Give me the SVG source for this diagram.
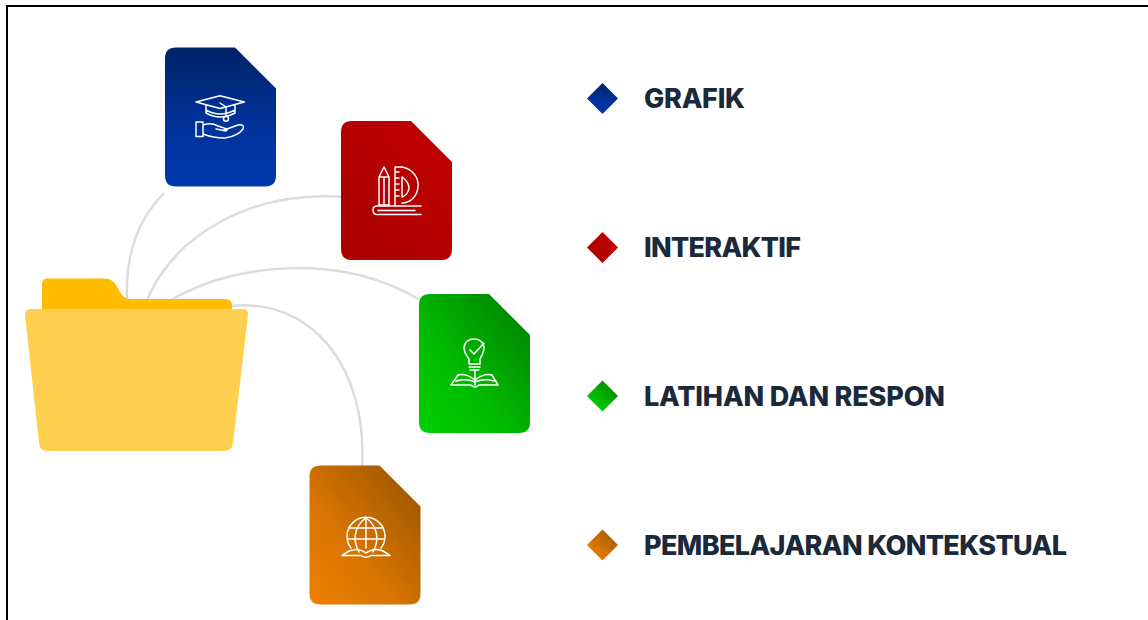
<svg xmlns="http://www.w3.org/2000/svg" width="1148" height="620" viewBox="0 0 1148 620">
<style>
.label{font-family:"Inter","Liberation Sans",sans-serif;font-weight:800;font-size:27px;fill:#1b2a3b}
.conn{fill:none;stroke:#dcdcdc;stroke-width:2.5}
.icon{fill:none;stroke:#fff;stroke-width:1.5;stroke-linecap:round;stroke-linejoin:round}
</style>
<defs>
<linearGradient id="gBlue" x1="0" y1="0" x2="0" y2="1"><stop offset="0" stop-color="#012366"/><stop offset=".55" stop-color="#00329a"/><stop offset="1" stop-color="#0038ad"/></linearGradient>
<linearGradient id="gRed" x1="1" y1="0" x2="0" y2="1"><stop offset="0" stop-color="#c40000"/><stop offset="1" stop-color="#a80000"/></linearGradient>
<linearGradient id="gGreen" x1="1" y1="0" x2="0" y2="1"><stop offset="0" stop-color="#007c00"/><stop offset=".6" stop-color="#00bb00"/><stop offset="1" stop-color="#00cf00"/></linearGradient>
<linearGradient id="gOrange" x1="1" y1="0" x2="0" y2="1"><stop offset="0" stop-color="#955200"/><stop offset=".6" stop-color="#d87400"/><stop offset="1" stop-color="#ee8000"/></linearGradient>
<path id="doc" d="M11 0H70L111 41V128Q111 139 100 139H11Q0 139 0 128V11Q0 0 11 0Z"/>
<path id="dia" d="M15.500 0L31 15.500L15.500 31L0 15.500Z"/>
</defs>
<rect x="7" y="6" width="1160" height="640" fill="#fff" stroke="#000" stroke-width="2"/>
<g id="connectors">
<path class="conn" d="M164 193C140 218 125 250 127 300"/>
<path class="conn" d="M147 300C175 235 250 190 345 197"/>
<path class="conn" d="M171 300C240 260 345 255 420 300"/>
<path class="conn" d="M232 306C310 298 368 365 362 468"/>
</g>
<g id="folder">
<path fill="#ffbc00" d="M42 310V284Q42 278.500 48 278.500H105Q112 278.500 116 285L120 292Q124 299 130 299H225Q232 299 232 306V312H42Z"/>
<path fill="#ffd04f" d="M30 309H243Q248.500 309 248 315L233 443Q232 451 224 451H47Q40 451 39 443L25 315Q25 309 30 309Z"/>
</g>
<g id="doc-grafik" transform="translate(165 47.500)">
<use href="#doc" fill="url(#gBlue)"/>
<g class="icon" transform="translate(-165 -47.500)">
<path d="M196 102L220 95.700L244.300 102L220 108.500Z"/>
<path d="M206 105V113Q220 121 235 113V105M206 110Q220 118 235 110"/>
<path d="M220 103L226 107V116"/>
<circle cx="226" cy="118.800" r="2.500"/>
<path d="M196 122H203V136.500H196ZM203 125Q211 122 218 126L224 128Q229 129 226 131L216 129M224 130L238 125Q245 124 243 129Q238 136 225 138Q213 138 203 134"/>
</g>
</g>
<g id="doc-interaktif" transform="translate(341 121)">
<use href="#doc" fill="url(#gRed)"/>
<g class="icon" transform="translate(-341 -121)">
<path d="M379 205V177L384 167L389 177V205ZM379 177H389M384 177V205"/>
<path d="M395 205V167H402C413 169 419 178 418 187C417 197 410 203 402 203M402 177Q409 182 409 188Q408 195 402 197ZM395 172H399M395 178H399M395 184H399M395 190H399M395 196H399"/>
<path d="M421 206H377Q373 206 373 210Q373 214.500 377 214.500H421M378 210.500H415"/>
</g>
</g>
<g id="doc-latihan" transform="translate(419 294)">
<use href="#doc" fill="url(#gGreen)"/>
<g class="icon" transform="translate(-419 -294)">
<path d="M469 364V359C466 355 464 352 464 348C464 342 469 339 474 339C479 339 484 342 484 348C484 352 482 355 480 359V364ZM469 367H480M470 370H479M475 370V379"/>
<path d="M470 350L474 354L484 343"/>
<path d="M451 385L458 375Q466 373 475 380Q484 373 492 375L498 385H479Q475 389 471 385ZM456 381Q466 378 475 382Q484 378 494 381M475 380V385"/>
</g>
</g>
<g id="doc-kontekstual" transform="translate(309.500 465.500)">
<use href="#doc" fill="url(#gOrange)"/>
<g class="icon" transform="translate(-309.500 -465.500)">
<path d="M351 548A19 19 0 1 1 381 548"/>
<path d="M359 552C353 541 353 528 366 517.500C379 528 379 541 373 552M366 517.500V548M349 528H383M347.500 539H384.500"/>
<path d="M342 555.500L349 551Q358 547 366 553Q375 547 383 551L390 555.500H371Q366 559 361 555.500Z"/>
</g>
</g>
<g id="legend-grafik"><use href="#dia" x="587" y="83" fill="url(#gBlue)"/><text class="label" x="644" y="108" textLength="101">GRAFIK</text></g>
<g id="legend-interaktif"><use href="#dia" x="587" y="232" fill="url(#gRed)"/><text class="label" x="644" y="257" textLength="157">INTERAKTIF</text></g>
<g id="legend-latihan"><use href="#dia" x="587" y="380.500" fill="url(#gGreen)"/><text class="label" x="644" y="405.500" textLength="301">LATIHAN DAN RESPON</text></g>
<g id="legend-kontekstual"><use href="#dia" x="587" y="529.500" fill="url(#gOrange)"/><text class="label" x="644" y="554.500" textLength="423">PEMBELAJARAN KONTEKSTUAL</text></g>
</svg>
